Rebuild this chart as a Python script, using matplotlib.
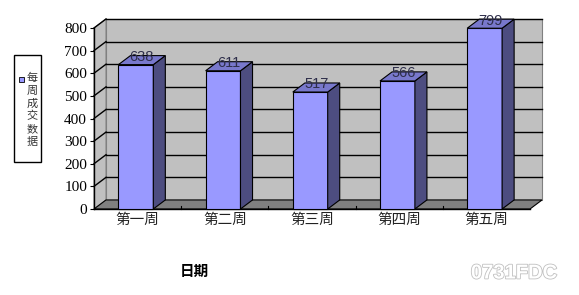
import matplotlib.pyplot as plt
from matplotlib.patches import Polygon, Rectangle
import matplotlib.patheffects as pe

plt.rcParams['font.family'] = ['Noto Sans CJK SC', 'DejaVu Sans']

# data
weeks = ['第一周', '第二周', '第三周', '第四周', '第五周']
deals = [638, 611, 517, 566, 799]
series_name = '每周成交数据'
x_title = '日期'
y_ticks = [0, 100, 200, 300, 400, 500, 600, 700, 800]

# 3d look (depth offsets in data units)
ddx = 0.138
ddy = 40
bar_w = 0.40
bar_off = -0.22
front_c = '#9999FF'
side_c = '#4D4D80'
top_c = '#7878CC'

fig = plt.figure(figsize=(5.79, 2.95), dpi=100)
ax = fig.add_axes([94 / 579, (295 - 209) / 295, 436 / 579, 181 / 295])
ax.set_xlim(-0.5, 4.5)
ax.set_ylim(0, 800)
ax.patch.set_visible(False)
for s in ['top', 'right', 'bottom']:
    ax.spines[s].set_visible(False)
ax.spines['left'].set_linewidth(1)

x0, x1 = -0.5, len(weeks) - 0.5
ymax = y_ticks[-1]

# back wall
ax.add_patch(Polygon([(x0 + ddx, ddy), (x1 + ddx, ddy), (x1 + ddx, ymax + ddy), (x0 + ddx, ymax + ddy)],
                     closed=True, facecolor='#C0C0C0', edgecolor='#808080', lw=0.8, clip_on=False, zorder=0))
# left wall
ax.add_patch(Polygon([(x0, 0), (x0 + ddx, ddy), (x0 + ddx, ymax + ddy), (x0, ymax)],
                     closed=True, facecolor='#C0C0C0', edgecolor='#808080', lw=0.8, clip_on=False, zorder=0))
# floor
ax.add_patch(Polygon([(x0, 0), (x1, 0), (x1 + ddx, ddy), (x0 + ddx, ddy)],
                     closed=True, facecolor='#808080', edgecolor='black', lw=0.8, clip_on=False, zorder=0.5))

# gridlines on back wall and left wall
for v in y_ticks[1:]:
    ax.plot([x0 + ddx, x1 + ddx], [v + ddy, v + ddy], color='black', lw=1, clip_on=False, zorder=0.6)
    ax.plot([x0, x0 + ddx], [v, v + ddy], color='black', lw=1, clip_on=False, zorder=0.6)

# category boundary ticks on floor
for b in range(1, len(weeks)):
    ax.plot([b - 0.5, b - 0.5], [0, 14], color='black', lw=0.8, clip_on=False, zorder=0.7)

# bars
for i, v in enumerate(deals):
    l = i + bar_off
    r = l + bar_w
    ax.add_patch(Rectangle((l, 0), bar_w, v, facecolor=front_c, edgecolor='black', lw=0.8,
                           clip_on=False, zorder=3))
    ax.add_patch(Polygon([(r, 0), (r + ddx, ddy), (r + ddx, v + ddy), (r, v)], closed=True,
                         facecolor=side_c, edgecolor='black', lw=0.8, clip_on=False, zorder=3))
    ax.add_patch(Polygon([(l, v), (r, v), (r + ddx, v + ddy), (l + ddx, v + ddy)], closed=True,
                         facecolor=top_c, edgecolor='black', lw=0.8, clip_on=False, zorder=3))
    ax.text(l + bar_w / 2 + ddx / 2, v + ddy * 0.85, str(v), ha='center', va='center',
            fontsize=10.5, family='Liberation Sans', color='#2E2E4A', zorder=4)

ax.axhline(0, color='black', lw=1, zorder=2, clip_on=False)

ax.set_yticks(y_ticks)
ax.set_yticklabels([str(t) for t in y_ticks], family='Liberation Serif', fontsize=11)
ax.tick_params(axis='y', length=3, width=0.8, pad=2)
ax.set_xticks(range(len(weeks)))
ax.set_xticklabels(weeks, fontsize=10.5, color='#222222')
ax.tick_params(axis='x', length=0, pad=3)

# axis title
fig.text(194 / 579, 1 - 271 / 295, x_title, ha='center', va='center', fontsize=10.5, fontweight='bold')

# legend
fig.patches.append(Rectangle((14 / 579, 1 - 162 / 295), 27 / 579, 107 / 295, transform=fig.transFigure,
                             facecolor='white', edgecolor='black', lw=1))
fig.patches.append(Rectangle((19 / 579, 1 - 82 / 295), 5 / 579, 5 / 295, transform=fig.transFigure,
                             facecolor=front_c, edgecolor='black', lw=0.6))
for k, ch in enumerate(series_name):
    fig.text(32 / 579, 1 - (78 + k * 12.7) / 295, ch, ha='center', va='center', fontsize=8, color='#333333')

# watermark
wm = fig.text(514 / 579, 1 - 273 / 295, '0731FDC', ha='center', va='center', fontsize=14.5,
              fontweight='bold', family='Liberation Sans', color='white')
wm.set_path_effects([pe.Stroke(linewidth=1.2, foreground='#C0C0C0'), pe.Normal()])

fig.savefig('out.png', dpi=100)
